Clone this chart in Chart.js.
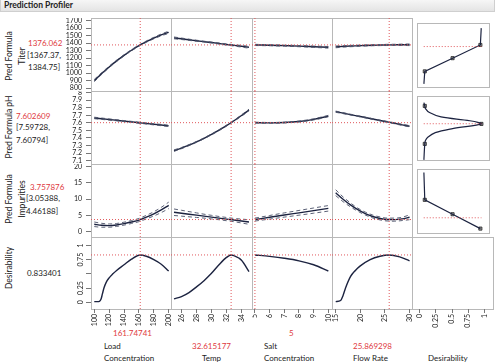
<!DOCTYPE html>
<html>
<head>
<meta charset="utf-8">
<script src="https://cdn.jsdelivr.net/npm/chart.js@4.4.1/dist/chart.umd.min.js"></script>
<style>
  body { margin: 0; background: #fff; }
  #wrap { position: relative; width: 495px; height: 363px; overflow: hidden;
          font-family: Lato, "Liberation Sans", sans-serif; color: #222; }
  #wrap canvas { position: absolute; }
  .bar { position: absolute; left: 0; top: 0; width: 493px; height: 11px;
         background: linear-gradient(#f6f6f6, #e4e4e4); border: 1px solid #cfcfcf; border-top: none; }
  .bar span { position: absolute; left: 3px; top: 0px; font-size: 8.5px; font-weight: bold; line-height: 11px; }
  .t { position: absolute; white-space: nowrap; font-size: 8px; line-height: 10px; }
  .red { color: #e0393e; }
  .rot { transform: translate(-50%, -50%) rotate(-90deg); text-align: center; line-height: 13px; font-size: 8.5px; }
</style>
</head>
<body>
<div id="wrap">
  <div class="bar"><span>Prediction Profiler</span></div>

  <div class="t rot" style="left:16px;top:56px;">Pred Formula<br>Titer</div>
  <div class="t red" style="left:28px;top:38px;">1376.062</div>
  <div class="t" style="left:27px;top:50px;">[1367.37,</div>
  <div class="t" style="left:28px;top:62px;">1384.75]</div>

  <div class="t rot" style="left:9px;top:127px;">Pred Formula pH</div>
  <div class="t red" style="left:16px;top:111px;">7.602609</div>
  <div class="t" style="left:16px;top:122px;">[7.59728,</div>
  <div class="t" style="left:16px;top:135px;">7.60794]</div>

  <div class="t rot" style="left:16px;top:199px;">Pred Formula<br>Impurities</div>
  <div class="t red" style="left:30px;top:182px;">3.757876</div>
  <div class="t" style="left:26px;top:193px;">[3.05388,</div>
  <div class="t" style="left:26px;top:206px;">4.46188]</div>

  <div class="t rot" style="left:9px;top:268px;">Desirability</div>
  <div class="t" style="left:27px;top:268px;">0.833401</div>

  <div class="t red" style="left:113px;top:328px;">161.74741</div>
  <div class="t" style="left:104px;top:341px;">Load</div>
  <div class="t" style="left:104px;top:353px;">Concentration</div>
  <div class="t red" style="left:192px;top:341px;">32.615177</div>
  <div class="t" style="left:202px;top:353px;">Temp</div>
  <div class="t red" style="left:289px;top:328px;">5</div>
  <div class="t" style="left:264px;top:341px;">Salt</div>
  <div class="t" style="left:264px;top:353px;">Concentration</div>
  <div class="t red" style="left:353px;top:341px;">25.869298</div>
  <div class="t" style="left:353px;top:353px;">Flow Rate</div>
  <div class="t" style="left:428px;top:353px;">Desirability</div>
</div>

<script>
// factor grids
const loadX = [100, 110, 120, 130, 140, 150, 160, 170, 180, 190, 200];
const tempX = [25, 26, 27, 28, 29, 30, 31, 32, 33, 34, 35];
const saltX = [5, 6, 7, 8, 9, 10];
const flowX = [15, 16.5, 18, 19.5, 21, 22.5, 24, 25.5, 27, 28.5, 30];

// Pred Formula Titer
const titerLoad   = [900, 994, 1082, 1163, 1237, 1305, 1366, 1420, 1468, 1510, 1545];
const titerLoadLo = [885, 982, 1072, 1154, 1229, 1297, 1358, 1411, 1458, 1498, 1530];
const titerLoadHi = [915, 1006, 1092, 1172, 1245, 1313, 1374, 1429, 1478, 1522, 1560];
const titerTemp   = [1470, 1458, 1445, 1432, 1420, 1408, 1395, 1382, 1370, 1358, 1345];
const titerTempLo = [1458, 1448, 1437, 1425, 1414, 1402, 1388, 1374, 1361, 1347, 1332];
const titerTempHi = [1482, 1468, 1453, 1439, 1426, 1414, 1402, 1390, 1379, 1369, 1358];
const titerSalt   = [1376, 1372, 1366, 1360, 1352, 1344];
const titerSaltLo = [1368, 1365, 1359, 1352, 1343, 1333];
const titerSaltHi = [1384, 1379, 1373, 1368, 1361, 1355];
const titerFlow   = [1350, 1356, 1361, 1365, 1369, 1372, 1374, 1376, 1377, 1378, 1378];
const titerFlowLo = [1338, 1346, 1352, 1357, 1362, 1365, 1367, 1368, 1369, 1369, 1367];
const titerFlowHi = [1362, 1366, 1370, 1373, 1376, 1379, 1381, 1384, 1385, 1387, 1389];

// Pred Formula pH
const phLoad   = [7.665, 7.655, 7.644, 7.634, 7.623, 7.613, 7.602, 7.592, 7.581, 7.571, 7.56];
const phLoadLo = [7.655, 7.646, 7.636, 7.627, 7.616, 7.606, 7.595, 7.585, 7.573, 7.562, 7.55];
const phLoadHi = [7.675, 7.664, 7.652, 7.641, 7.630, 7.620, 7.609, 7.599, 7.589, 7.580, 7.57];
const phTemp   = [7.232, 7.266, 7.305, 7.348, 7.395, 7.447, 7.503, 7.563, 7.628, 7.697, 7.771];
const phTempLo = [7.222, 7.258, 7.298, 7.342, 7.389, 7.441, 7.497, 7.557, 7.621, 7.688, 7.760];
const phTempHi = [7.242, 7.274, 7.312, 7.354, 7.401, 7.453, 7.509, 7.569, 7.635, 7.706, 7.782];
const phSalt   = [7.603, 7.600, 7.604, 7.618, 7.646, 7.690];
const phSaltLo = [7.597, 7.595, 7.599, 7.612, 7.638, 7.680];
const phSaltHi = [7.609, 7.605, 7.609, 7.624, 7.654, 7.700];
const phFlow   = [7.748, 7.729, 7.709, 7.690, 7.671, 7.651, 7.632, 7.613, 7.594, 7.574, 7.555];
const phFlowLo = [7.740, 7.722, 7.703, 7.685, 7.666, 7.646, 7.627, 7.607, 7.587, 7.566, 7.546];
const phFlowHi = [7.756, 7.736, 7.715, 7.695, 7.676, 7.656, 7.637, 7.619, 7.601, 7.582, 7.564];

// Pred Formula Impurities
const impLoad   = [2.3, 2.0, 1.9, 2.1, 2.5, 3.0, 3.6, 4.5, 5.5, 6.7, 8.1];
const impLoadLo = [1.6, 1.4, 1.4, 1.65, 2.05, 2.55, 3.1, 3.95, 4.85, 5.9, 7.1];
const impLoadHi = [3.0, 2.6, 2.4, 2.55, 2.95, 3.45, 4.1, 5.05, 6.15, 7.5, 9.1];
const impTemp   = [6.0, 5.7, 5.4, 5.1, 4.8, 4.5, 4.2, 3.9, 3.6, 3.3, 3.0];
const impTempLo = [5.0, 4.8, 4.6, 4.4, 4.2, 3.95, 3.7, 3.4, 3.1, 2.7, 2.3];
const impTempHi = [7.0, 6.6, 6.2, 5.8, 5.4, 5.05, 4.7, 4.4, 4.1, 3.9, 3.7];
const impSalt   = [3.76, 4.45, 5.14, 5.82, 6.51, 7.2];
const impSaltLo = [3.3, 3.9, 4.5, 5.1, 5.7, 6.35];
const impSaltHi = [4.2, 5.0, 5.8, 6.55, 7.3, 8.05];
const impFlow   = [12.0, 9.98, 8.24, 6.78, 5.6, 4.7, 4.09, 3.76, 3.72, 3.95, 4.47];
const impFlowLo = [11.1, 9.25, 7.65, 6.3, 5.15, 4.25, 3.65, 3.3, 3.25, 3.45, 3.7];
const impFlowHi = [12.9, 10.7, 8.85, 7.25, 6.05, 5.15, 4.55, 4.2, 4.2, 4.45, 5.2];

// Desirability profiles
const desLoadX = [100, 104, 107, 109, 111, 113, 116, 120, 125, 130, 140, 150, 161.75, 170, 180, 190, 200];
const desLoad  = [0.01, 0.01, 0.015, 0.05, 0.15, 0.25, 0.35, 0.43, 0.5, 0.56, 0.66, 0.76, 0.8334, 0.81, 0.75, 0.67, 0.55];
const desTempX = [25, 26, 27, 28, 29, 30, 31, 32, 32.615, 33, 34, 35];
const desTemp  = [0.06, 0.1, 0.17, 0.27, 0.38, 0.51, 0.66, 0.79, 0.8334, 0.82, 0.74, 0.54];
const desSaltX = [5, 6, 7, 8, 9, 10];
const desSalt  = [0.8334, 0.808, 0.775, 0.73, 0.66, 0.55];
const desFlowX = [15, 16, 16.5, 17, 18, 19, 20, 22, 24, 25.87, 28, 30];
const desFlow  = [0.01, 0.03, 0.12, 0.25, 0.45, 0.56, 0.64, 0.75, 0.81, 0.8334, 0.8, 0.73];

// desirability functions (x = desirability, y = response)
const titerFnD = [0.003, 0.0183, 0.5, 0.9819, 0.997];
const titerFnY = [810, 1000, 1200, 1400, 1655];
const phFnD = [0.003, 0.0183, 0.03, 0.1, 0.3, 0.8, 1, 0.5, 0.2, 0.07, 0.03, 0.0183, 0.003];
const phFnY = [7.92, 7.87, 7.83, 7.77, 7.705, 7.647, 7.6, 7.53, 7.47, 7.4, 7.35, 7.3, 7.06];
const impFnD = [0.003, 0.0183, 0.5, 0.9819];
const impFnY = [19.5, 10, 5, 0];
const titerMarkD = [0.0183, 0.5, 0.9819], titerMarkY = [1000, 1200, 1400];
const phMarkD = [0.0183, 1, 0.0183], phMarkY = [7.87, 7.6, 7.3];
const impMarkD = [0.0183, 0.5, 0.9819], impMarkY = [10, 5, 0];

// current settings
const curX = [161.74741, 32.615177, 5, 25.869298];
const curY = [1376.062, 7.602609, 3.757876, 0.833401];

// tick labels
const titerTicks = [800, 900, 1000, 1100, 1200, 1300, 1400, 1500, 1600, 1700];
const phTicks = [7.1, 7.2, 7.3, 7.4, 7.5, 7.6, 7.7, 7.8, 7.9, 8];
const phTickLabels = ['7.1', '7.2', '7.3', '7.4', '7.5', '7.6', '7.7', '7.8', '7.9', '8'];
const impTicks = [0, 5, 10, 15, 20];
const desTicks = [0, 0.25, 0.5, 0.75, 1];
const desTickLabels = ['0', '0.25', '', '0.75', '1'];
const loadTicks = [100, 120, 140, 160, 180, 200];
const tempTicks = [26, 28, 30, 32, 34];
const saltTicks = [5, 6, 7, 8, 9, 10];
const flowTicks = [15, 20, 25, 30];
const desXTicks = [0, 0.25, 0.5, 0.75, 1];
const desXTickLabels = ['0', '0.25', '0.5', '0.75', '1'];

// layout of the grid
const XL = [91, 171, 252, 332, 412], XR = [171, 252, 332, 412, 493];
const YT = [18, 91, 164, 237], YB = [91, 164, 237, 309];
const YAXIS_W = 35, XAXIS_H = 30;
const rowRange = [[760, 1736], [7.055, 8.022], [-1.6, 20.8], [-0.12, 1.15]];
const colRange = [[95.6, 203.1], [24.6, 35.4], [4.8, 10.25], [14.25, 30.5], [-0.12, 1.135]];
const rowTicks = [titerTicks, phTicks, impTicks, desTicks];
const rowLabels = [titerTicks.map(String), phTickLabels, impTicks.map(String), desTickLabels];
const colTicks = [loadTicks, tempTicks, saltTicks, flowTicks, desXTicks];
const colLabels = [loadTicks.map(String), tempTicks.map(String), saltTicks.map(String), flowTicks.map(String), desXTickLabels];

const factorX = [loadX, tempX, saltX, flowX];
const profiles = [
  [[titerLoad, titerLoadLo, titerLoadHi], [titerTemp, titerTempLo, titerTempHi], [titerSalt, titerSaltLo, titerSaltHi], [titerFlow, titerFlowLo, titerFlowHi]],
  [[phLoad, phLoadLo, phLoadHi], [phTemp, phTempLo, phTempHi], [phSalt, phSaltLo, phSaltHi], [phFlow, phFlowLo, phFlowHi]],
  [[impLoad, impLoadLo, impLoadHi], [impTemp, impTempLo, impTempHi], [impSalt, impSaltLo, impSaltHi], [impFlow, impFlowLo, impFlowHi]]
];
const desProfiles = [[desLoadX, desLoad], [desTempX, desTemp], [desSaltX, desSalt], [desFlowX, desFlow]];
const desFns = [[titerFnD, titerFnY, titerMarkD, titerMarkY], [phFnD, phFnY, phMarkD, phMarkY], [impFnD, impFnY, impMarkD, impMarkY]];

const FONT = 'Lato, "Liberation Sans", sans-serif';
const LINE = '#1c2340';
const RED = '#e0575b';

function pts(xs, ys) {
  return xs.map((x, i) => ({ x: x, y: ys[i] }));
}

const cellBorder = {
  id: 'cellBorder',
  beforeDraw(chart) {
    const { ctx, chartArea: a } = chart;
    ctx.save();
    ctx.strokeStyle = '#b8b8b8';
    ctx.lineWidth = 1;
    ctx.strokeRect(Math.round(a.left) + 0.5, Math.round(a.top) + 0.5,
                   Math.round(a.right - a.left), Math.round(a.bottom - a.top));
    ctx.restore();
  }
};

function redLine(data) {
  return { data: data, borderColor: RED, borderWidth: 1, borderDash: [1, 2], pointRadius: 0, tension: 0 };
}

function curve(data) {
  return { data: data, borderColor: LINE, borderWidth: 1.4, pointRadius: 0, cubicInterpolationMode: 'monotone' };
}

function band(data) {
  return { data: data, borderColor: '#4a5068', borderWidth: 0.9, borderDash: [4, 3], pointRadius: 0, cubicInterpolationMode: 'monotone' };
}

function cellDatasets(r, c) {
  const [x0, x1] = colRange[c], [y0, y1] = rowRange[r];
  const ds = [];
  if (c < 4) {
    ds.push(redLine([{ x: curX[c], y: y0 }, { x: curX[c], y: y1 }]));
    ds.push(redLine([{ x: x0, y: curY[r] }, { x: x1, y: curY[r] }]));
    if (r < 3) {
      const [mid, lo, hi] = profiles[r][c];
      ds.push(band(pts(factorX[c], lo)));
      ds.push(band(pts(factorX[c], hi)));
      ds.push(curve(pts(factorX[c], mid)));
    } else {
      ds.push(curve(pts(desProfiles[c][0], desProfiles[c][1])));
    }
  } else if (r < 3) {
    const [fd, fy, md, my] = desFns[r];
    ds.push(redLine([{ x: 0, y: curY[r] }, { x: 1, y: curY[r] }]));
    const fn = curve(pts(fd, fy));
    fn.cubicInterpolationMode = 'default';
    fn.tension = r === 1 ? 0.35 : 0;
    fn.borderWidth = 1.2;
    ds.push(fn);
    ds.push({ data: pts(md, my), showLine: false, pointStyle: 'rect', pointRadius: 2.2,
              pointBackgroundColor: '#9a9a9a', pointBorderColor: '#222', pointBorderWidth: 0.8 });
  }
  return ds;
}

function makeCell(r, c) {
  const cv = document.createElement('canvas');
  const showY = c === 0, showX = r === 3;
  const left = XL[c] - (showY ? YAXIS_W : 0);
  const width = XR[c] - XL[c] + 1 + (showY ? YAXIS_W : 0);
  const height = YB[r] - YT[r] + (showX ? XAXIS_H : 1);
  cv.width = width;
  cv.height = height;
  cv.style.left = left + 'px';
  cv.style.top = YT[r] + 'px';
  cv.style.width = width + 'px';
  cv.style.height = height + 'px';
  document.getElementById('wrap').appendChild(cv);

  new Chart(cv.getContext('2d'), {
    type: 'line',
    data: { datasets: cellDatasets(r, c) },
    options: {
      responsive: false,
      animation: false,
      devicePixelRatio: 1,
      layout: { padding: { left: 0, top: 0, right: 1, bottom: showX ? 0 : 1 } },
      plugins: { legend: { display: false }, tooltip: { enabled: false } },
      elements: { line: { fill: false } },
      scales: {
        x: {
          type: 'linear',
          min: colRange[c][0],
          max: colRange[c][1],
          display: showX,
          afterBuildTicks: s => { s.ticks = colTicks[c].map(v => ({ value: v })); },
          afterFit: s => {
            if (!showX) return;
            s.height = XAXIS_H; s.paddingLeft = 0; s.paddingRight = 0;
          },
          ticks: {
            autoSkip: false, minRotation: 90, maxRotation: 90, padding: 1,
            color: '#222', font: { family: FONT, size: 7 },
            callback: (v, i) => colLabels[c][i]
          },
          grid: { drawOnChartArea: false, tickLength: 4, color: '#777' },
          border: { display: false }
        },
        y: {
          type: 'linear',
          min: rowRange[r][0],
          max: rowRange[r][1],
          display: showY,
          afterBuildTicks: s => { s.ticks = rowTicks[r].map(v => ({ value: v })); },
          afterFit: s => {
            if (!showY) return;
            s.width = YAXIS_W; s.paddingTop = 0; s.paddingBottom = 0;
          },
          ticks: {
            autoSkip: false,
            minRotation: r === 3 ? 90 : 0, maxRotation: r === 3 ? 90 : 0,
            crossAlign: r === 3 ? 'center' : 'near',
            padding: r === 3 ? -2 : 4,
            color: '#222', font: { family: FONT, size: 7 },
            callback: (v, i) => rowLabels[r][i]
          },
          grid: { drawOnChartArea: false, tickLength: 5, color: '#777' },
          border: { display: false }
        }
      }
    },
    plugins: [cellBorder]
  });
}

for (let r = 0; r < 4; r++) {
  for (let c = 0; c < 5; c++) {
    makeCell(r, c);
  }
}
</script>
</body>
</html>
